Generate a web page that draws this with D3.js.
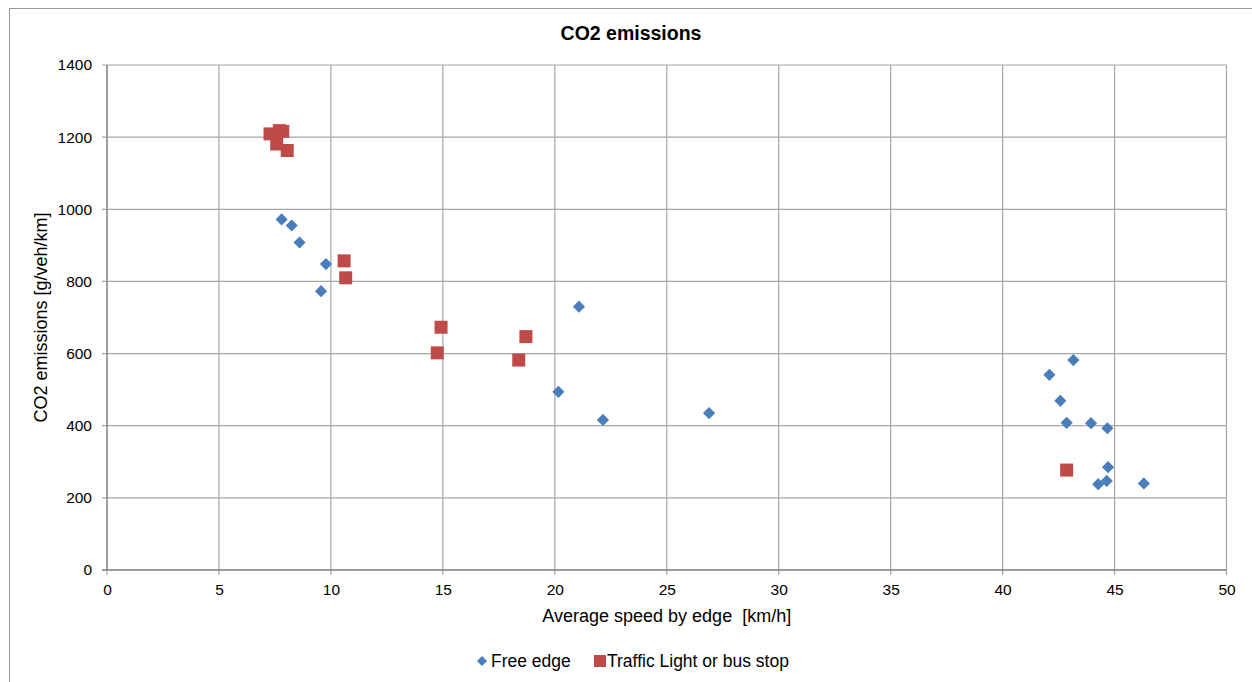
<!DOCTYPE html>
<html><head><meta charset="utf-8">
<script src="https://cdn.jsdelivr.net/npm/d3@7"></script>
<style>body{margin:0;background:#fff}svg{display:block}text{font-family:"Liberation Sans",Arial,sans-serif;fill:#000;white-space:pre}</style>
</head><body>
<svg id="c" width="1252" height="682"></svg>
<script>
const freeX = [7.80, 8.25, 8.60, 9.78, 9.56, 21.08, 20.16, 22.15, 26.89, 43.16, 42.09, 42.58, 42.86, 43.95, 44.68, 44.71, 44.27, 44.65, 46.31];
const freeY = [972, 955, 908, 848, 773, 730, 494, 416, 435, 582, 541, 469, 408, 407, 393, 285, 238, 247, 240];
const tlX = [7.28, 7.70, 7.85, 7.58, 8.05, 10.59, 10.66, 14.92, 14.75, 18.71, 18.39, 42.86];
const tlY = [1209, 1218, 1216, 1181, 1163, 857, 810, 673, 602, 647, 582, 277];
const xTicks = [0,5,10,15,20,25,30,35,40,45,50];
const yTicks = [0,200,400,600,800,1000,1200,1400];
const seriesNames = ["Free edge", "Traffic Light or bus stop"];
const colors = ["#4A7EBB", "#BE4B48"];

const svg = d3.select("#c");
svg.append("rect").attr("x",9.5).attr("y",8.5).attr("width",1260).attr("height",700).attr("fill","none").attr("stroke","#999");
const L=107, R=1226.5, T=65, B=570;
const x = d3.scaleLinear().domain([0,50]).range([L,R]);
const y = d3.scaleLinear().domain([0,1400]).range([B,T]);

const grid = svg.append("g").attr("stroke","#a6a6a6").attr("stroke-width",1.2);
xTicks.forEach(t=>grid.append("line").attr("x1",x(t)).attr("x2",x(t)).attr("y1",T).attr("y2",B+5));
yTicks.forEach(t=>grid.append("line").attr("x1",L-5).attr("x2",R).attr("y1",y(t)).attr("y2",y(t)));
svg.append("line").attr("x1",L).attr("x2",L).attr("y1",T).attr("y2",B).attr("stroke","#888").attr("stroke-width",1.3);
svg.append("line").attr("x1",L-5).attr("x2",R).attr("y1",B).attr("y2",B).attr("stroke","#888").attr("stroke-width",1.3);

const xa = svg.append("g").attr("transform",`translate(0,${B})`).call(d3.axisBottom(x).tickValues(xTicks).tickSize(0).tickPadding(14).tickFormat(d3.format("d")));
xa.select(".domain").remove();
xa.selectAll("text").attr("font-size",15.5).style("font-family","Liberation Sans, Arial, sans-serif");
const ya = svg.append("g").attr("transform",`translate(${L},0)`).call(d3.axisLeft(y).tickValues(yTicks).tickSize(0).tickPadding(15).tickFormat(d3.format("d")));
ya.select(".domain").remove();
ya.selectAll("text").attr("font-size",15.5).style("font-family","Liberation Sans, Arial, sans-serif");

svg.append("text").attr("x",631).attr("y",40).attr("text-anchor","middle").attr("font-size",19.5).attr("font-weight","bold").text("CO2 emissions");
svg.append("text").attr("x",(L+R)/2).attr("y",622).attr("text-anchor","middle").attr("font-size",18).text("Average speed by edge  [km/h]");
svg.append("text").attr("transform",`translate(47,${(T+B)/2}) rotate(-90)`).attr("text-anchor","middle").attr("font-size",18).text("CO2 emissions [g/veh/km]");

const dia = d3.symbol().type(d3.symbolSquare).size(74);
svg.append("g").selectAll("path").data(freeX.map((v,i)=>[v,freeY[i]])).join("path")
  .attr("d",dia).attr("transform",d=>`translate(${x(d[0])},${y(d[1])}) rotate(45)`).attr("fill",colors[0]);
svg.append("g").selectAll("rect").data(tlX.map((v,i)=>[v,tlY[i]])).join("rect")
  .attr("x",d=>x(d[0])-6.5).attr("y",d=>y(d[1])-6.5).attr("width",13).attr("height",13).attr("fill",colors[1]);

// legend
const lg = svg.append("g");
lg.append("path").attr("d",d3.symbol().type(d3.symbolSquare).size(50)).attr("transform","translate(482,661) rotate(45)").attr("fill",colors[0]);
lg.append("text").attr("x",491).attr("y",667).attr("font-size",17.5).text(seriesNames[0]);
lg.append("rect").attr("x",594).attr("y",655).attr("width",12).attr("height",12).attr("fill",colors[1]);
lg.append("text").attr("x",607).attr("y",667).attr("font-size",17.5).text(seriesNames[1]);
</script>
</body></html>
